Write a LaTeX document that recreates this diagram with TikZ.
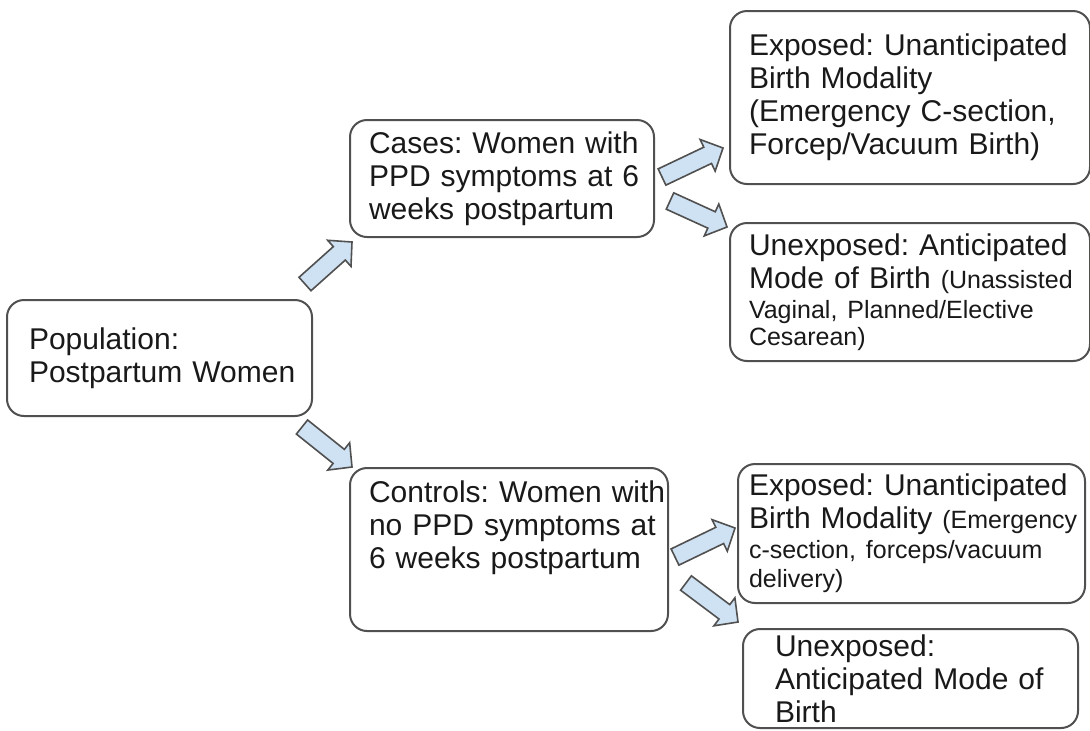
\documentclass[tikz,border=0pt]{standalone}
\usepackage{fontspec}
\setmainfont{Liberation Sans}
\usetikzlibrary{calc}
\frenchspacing

\definecolor{arrowblue}{HTML}{CFE2F3}
\definecolor{edgegray}{HTML}{505050}

\tikzset{
  box/.style={draw=edgegray, line width=1pt, rounded corners=8.5pt,
    anchor=north west, inner xsep=0pt, inner ysep=0pt, align=left,
    text=black!90, font=\fontsize{15}{16.5}\selectfont},
  boxsize/.style n args={3}{minimum width=#1, text width=#1,
    minimum height=#2, execute at begin node={\leftskip=#3\relax}},
  blockarrow/.style={draw=edgegray, fill=arrowblue, line width=0.8pt}
}
\newcommand{\sm}{\fontsize{12.5}{13.5}\selectfont}
\newcommand{\blockarrow}[2]{%
  \draw[blockarrow] ($(#1)!4.5pt!90:(#2)$)
    -- ($(#2)!8.5pt!(#1)!4.5pt!-90:(#1)$)
    -- ($(#2)!8.5pt!(#1)!8.75pt!-90:(#1)$)
    -- (#2)
    -- ($(#2)!8.5pt!(#1)!8.75pt!90:(#1)$)
    -- ($(#2)!8.5pt!(#1)!4.5pt!90:(#1)$)
    -- ($(#1)!4.5pt!-90:(#2)$) -- cycle;}

\begin{document}
\begin{tikzpicture}[x=0.5pt, y=-0.5pt]
  \useasboundingbox (0,0) rectangle (1090,730);

  \node[box, boxsize={152.5pt}{58pt}{11pt}] (pop) at (6,299)
    {Population:\\Postpartum Women};
  \node[box, boxsize={152pt}{58.5pt}{9.5pt}] (cases) at (349,119)
    {Cases: Women with\\PPD symptoms at 6\\weeks postpartum};
  \node[box, boxsize={159pt}{81.5pt}{9.5pt}] (controls) at (349,467)
    {Controls: Women with\\no PPD symptoms at\\6 weeks postpartum\endgraf\kern22pt};

  \node[box, boxsize={180pt}{86.5pt}{9.5pt}] (expA) at (729,10)
    {Exposed: Unanticipated\\Birth Modality\\(Emergency C-section,\\Forcep/Vacuum Birth)};
  \node[box, boxsize={180pt}{69pt}{9.5pt}] (unexA) at (729,222)
    {Unexposed: Anticipated\\Mode of Birth {\sm (Unassisted}\\[-1.5pt]%
     {\sm Vaginal, Planned/Elective}\\[-3pt]{\sm Cesarean)}};
  \node[box, boxsize={173.5pt}{69.5pt}{5.5pt}] (expB) at (737,463)
    {Exposed: Unanticipated\\Birth Modality {\sm (Emergency}\\[-1.5pt]%
     {\sm c-section, forceps/vacuum}\\[-2pt]{\sm delivery)}};
  \node[box, boxsize={167.5pt}{49.5pt}{16pt}] (unexB) at (742,628)
    {Unexposed:\\Anticipated Mode of\\Birth};

  % block arrows
  \coordinate (pop-up-s) at (305,284);   \coordinate (pop-up-t) at (352,242);
  \coordinate (pop-dn-s) at (302,427);   \coordinate (pop-dn-t) at (352,467);
  \coordinate (cas-up-s) at (662,177);   \coordinate (cas-up-t) at (723,148);
  \coordinate (cas-dn-s) at (670,201);   \coordinate (cas-dn-t) at (727,227);
  \coordinate (con-up-s) at (675,557);   \coordinate (con-up-t) at (735,528);
  \coordinate (con-dn-s) at (686,583);   \coordinate (con-dn-t) at (738,622);
  \foreach \a in {pop-up,pop-dn,cas-up,cas-dn,con-up,con-dn}
    {\blockarrow{\a-s}{\a-t}}
\end{tikzpicture}
\end{document}
